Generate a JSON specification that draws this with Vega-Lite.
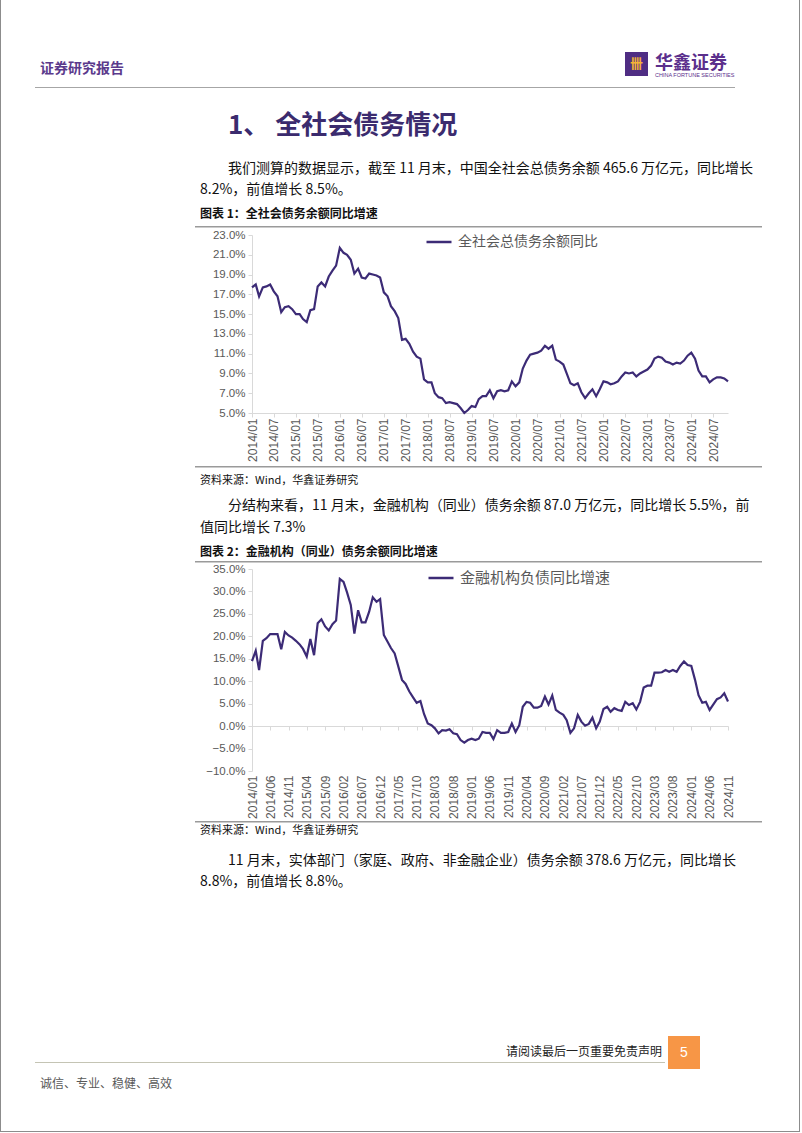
{
  "$schema": "https://vega.github.io/schema/vega-lite/v6.json",
  "padding": 0,
  "background": "#ffffff",
  "spacing": 0,
  "config": {
    "font": "Noto Sans CJK SC",
    "view": {"stroke": null},
    "axis": {"labelFont": "Liberation Sans", "labelColor": "#595959", "domainColor": "#d9d9d9", "tickColor": "#d9d9d9", "tickSize": 4, "grid": false, "title": null},
    "title": {"font": "Noto Sans CJK SC", "subtitleFont": "Noto Sans CJK SC", "color": "#1a1a1a", "anchor": "start", "frame": "group", "fontWeight": "normal", "subtitleFontWeight": "normal"}
  },
  "vconcat": [
    {
      "hconcat": [
        {"width": 1, "height": 1131, "view": {"fill": "#8c8c8c", "stroke": null}, "data": {"values": []}, "mark": "point"},
        {
          "resolve": {"scale": {"color": "independent"}},
          "spacing": 0,
          "vconcat": [
            {"width": 1, "height": 52, "data": {"values": []}, "mark": "point"},
            {
              "spacing": 0,
              "hconcat": [
                {"width": 590, "height": 24, "data": {"values": []}, "mark": "point",
                 "title": {"text": "证券研究报告", "orient": "bottom", "offset": -14, "dx": 5, "fontSize": 14, "fontWeight": "bold", "color": "#5b3a8c"}},
                {"width": 23, "height": 24, "view": {"fill": "#4f2d83", "stroke": null}, "data": {"values": []}, "mark": "point",
                 "title": {"text": "卌", "orient": "bottom", "anchor": "middle", "offset": -18, "fontSize": 13, "fontWeight": "bold", "color": "#f5b335"}},
                {"width": 87, "height": 24, "data": {"values": []}, "mark": "point",
                 "title": {"text": "华鑫证券", "subtitle": "CHINA FORTUNE SECURITIES", "orient": "bottom", "offset": -21.5, "dx": 7, "fontSize": 18, "fontWeight": "bold", "color": "#5b2f8c", "subtitleFont": "Liberation Sans", "subtitleFontSize": 5.5, "subtitleColor": "#5b2f8c", "subtitlePadding": 0}}
              ]
            },
            {"width": 1, "height": 9, "data": {"values": []}, "mark": "point"},
            {"width": 700, "height": 1, "view": {"fill": "#a6a6a6", "stroke": null}, "data": {"values": []}, "mark": "point"},
            {"width": 700, "height": 63, "data": {"values": []}, "mark": "point",
             "title": {"text": "1、 全社会债务情况", "orient": "bottom", "offset": -38, "dx": 193, "fontSize": 26, "fontWeight": "bold", "color": "#3b2b6e"}},
            {"width": 730, "height": 75, "data": {"values": []}, "mark": "point",
             "title": {"text": ["\u200b\u3000\u3000我们测算的数据显示，截至 11 月末，中国全社会总债务余额 465.6 万亿元，同比增长", "8.2%，前值增长 8.5%。"], "subtitle": "图表 1：全社会债务余额同比增速", "orient": "bottom", "offset": -64, "dx": 165, "fontSize": 14, "lineHeight": 21, "color": "#111111", "subtitleFontSize": 12, "subtitleFontWeight": "bold", "subtitleColor": "#111111", "subtitlePadding": 12}},
            {
              "spacing": 0,
              "hconcat": [
                {"width": 160, "height": 2, "data": {"values": []}, "mark": "point"},
                {"width": 567, "height": 1.5, "view": {"fill": "#9a9a9a", "stroke": null}, "data": {"values": []}, "mark": "point"}
              ]
            },
            {
              "width": 693, "height": 238,
              "data": {"values": [
                {"m":"2014-01","v":17.7},{"m":"2014-02","v":18.0},{"m":"2014-03","v":16.8},{"m":"2014-04","v":17.7},{"m":"2014-05","v":17.8},{"m":"2014-06","v":18.0},{"m":"2014-07","v":17.3},{"m":"2014-08","v":16.8},{"m":"2014-09","v":15.2},{"m":"2014-10","v":15.7},{"m":"2014-11","v":15.8},{"m":"2014-12","v":15.5},
                {"m":"2015-01","v":15.0},{"m":"2015-02","v":15.0},{"m":"2015-03","v":14.5},{"m":"2015-04","v":14.2},{"m":"2015-05","v":15.4},{"m":"2015-06","v":15.5},{"m":"2015-07","v":17.8},{"m":"2015-08","v":18.2},{"m":"2015-09","v":17.8},{"m":"2015-10","v":18.8},{"m":"2015-11","v":19.4},{"m":"2015-12","v":19.9},
                {"m":"2016-01","v":21.7},{"m":"2016-02","v":21.2},{"m":"2016-03","v":21.0},{"m":"2016-04","v":20.5},{"m":"2016-05","v":19.1},{"m":"2016-06","v":19.6},{"m":"2016-07","v":18.7},{"m":"2016-08","v":18.6},{"m":"2016-09","v":19.1},{"m":"2016-10","v":19.0},{"m":"2016-11","v":18.9},{"m":"2016-12","v":18.7},
                {"m":"2017-01","v":17.2},{"m":"2017-02","v":16.8},{"m":"2017-03","v":15.8},{"m":"2017-04","v":15.3},{"m":"2017-05","v":14.6},{"m":"2017-06","v":12.4},{"m":"2017-07","v":12.5},{"m":"2017-08","v":12.0},{"m":"2017-09","v":11.2},{"m":"2017-10","v":10.7},{"m":"2017-11","v":10.5},{"m":"2017-12","v":8.4},
                {"m":"2018-01","v":8.1},{"m":"2018-02","v":8.1},{"m":"2018-03","v":7.0},{"m":"2018-04","v":6.6},{"m":"2018-05","v":6.5},{"m":"2018-06","v":6.0},{"m":"2018-07","v":6.1},{"m":"2018-08","v":6.0},{"m":"2018-09","v":5.9},{"m":"2018-10","v":5.5},{"m":"2018-11","v":5.0},{"m":"2018-12","v":5.3},
                {"m":"2019-01","v":5.7},{"m":"2019-02","v":5.6},{"m":"2019-03","v":6.4},{"m":"2019-04","v":6.7},{"m":"2019-05","v":6.7},{"m":"2019-06","v":7.3},{"m":"2019-07","v":6.5},{"m":"2019-08","v":7.2},{"m":"2019-09","v":7.3},{"m":"2019-10","v":7.2},{"m":"2019-11","v":7.3},{"m":"2019-12","v":8.2},
                {"m":"2020-01","v":7.7},{"m":"2020-02","v":8.1},{"m":"2020-03","v":9.5},{"m":"2020-04","v":10.3},{"m":"2020-05","v":10.9},{"m":"2020-06","v":11.0},{"m":"2020-07","v":11.1},{"m":"2020-08","v":11.3},{"m":"2020-09","v":11.8},{"m":"2020-10","v":11.5},{"m":"2020-11","v":11.8},{"m":"2020-12","v":10.4},
                {"m":"2021-01","v":10.2},{"m":"2021-02","v":9.9},{"m":"2021-03","v":9.0},{"m":"2021-04","v":8.0},{"m":"2021-05","v":7.8},{"m":"2021-06","v":8.0},{"m":"2021-07","v":7.1},{"m":"2021-08","v":6.5},{"m":"2021-09","v":7.0},{"m":"2021-10","v":7.4},{"m":"2021-11","v":6.7},{"m":"2021-12","v":7.4},
                {"m":"2022-01","v":8.2},{"m":"2022-02","v":8.1},{"m":"2022-03","v":7.9},{"m":"2022-04","v":8.0},{"m":"2022-05","v":8.2},{"m":"2022-06","v":8.7},{"m":"2022-07","v":9.1},{"m":"2022-08","v":9.0},{"m":"2022-09","v":9.1},{"m":"2022-10","v":8.7},{"m":"2022-11","v":9.0},{"m":"2022-12","v":9.2},
                {"m":"2023-01","v":9.4},{"m":"2023-02","v":9.8},{"m":"2023-03","v":10.5},{"m":"2023-04","v":10.7},{"m":"2023-05","v":10.6},{"m":"2023-06","v":10.2},{"m":"2023-07","v":10.1},{"m":"2023-08","v":9.9},{"m":"2023-09","v":10.1},{"m":"2023-10","v":10.0},{"m":"2023-11","v":10.3},{"m":"2023-12","v":10.8},
                {"m":"2024-01","v":11.1},{"m":"2024-02","v":10.5},{"m":"2024-03","v":9.3},{"m":"2024-04","v":8.7},{"m":"2024-05","v":8.7},{"m":"2024-06","v":8.1},{"m":"2024-07","v":8.4},{"m":"2024-08","v":8.6},{"m":"2024-09","v":8.6},{"m":"2024-10","v":8.5},{"m":"2024-11","v":8.2}
              ]},
              "mark": {"type": "line", "strokeWidth": 2.2},
              "encoding": {
                "x": {"field": "m", "type": "temporal", "scale": {"type": "utc", "nice": false, "range": [217, 693]},
                      "axis": {"values": [
                        {"year":2014,"month":1,"date":1,"utc":true},{"year":2014,"month":7,"date":1,"utc":true},
                        {"year":2015,"month":1,"date":1,"utc":true},{"year":2015,"month":7,"date":1,"utc":true},
                        {"year":2016,"month":1,"date":1,"utc":true},{"year":2016,"month":7,"date":1,"utc":true},
                        {"year":2017,"month":1,"date":1,"utc":true},{"year":2017,"month":7,"date":1,"utc":true},
                        {"year":2018,"month":1,"date":1,"utc":true},{"year":2018,"month":7,"date":1,"utc":true},
                        {"year":2019,"month":1,"date":1,"utc":true},{"year":2019,"month":7,"date":1,"utc":true},
                        {"year":2020,"month":1,"date":1,"utc":true},{"year":2020,"month":7,"date":1,"utc":true},
                        {"year":2021,"month":1,"date":1,"utc":true},{"year":2021,"month":7,"date":1,"utc":true},
                        {"year":2022,"month":1,"date":1,"utc":true},{"year":2022,"month":7,"date":1,"utc":true},
                        {"year":2023,"month":1,"date":1,"utc":true},{"year":2023,"month":7,"date":1,"utc":true},
                        {"year":2024,"month":1,"date":1,"utc":true},{"year":2024,"month":7,"date":1,"utc":true}
                      ], "format": "%Y/%m", "labelAngle": -90, "labelFontSize": 12, "offset": -53, "labelPadding": 1, "labelOverlap": false, "labelFlush": false, "labelBound": false}},
                "y": {"field": "v", "type": "quantitative", "scale": {"domain": [5, 23], "nice": false, "zero": false, "range": [185, 7]},
                      "axis": {"values": [5, 7, 9, 11, 13, 15, 17, 19, 21, 23], "labelExpr": "format(datum.value, '.1f') + '%'", "labelFontSize": 11.5, "labelPadding": 3, "offset": -217}},
                "color": {"datum": "全社会总债务余额同比", "type": "nominal", "scale": {"range": ["#3c2b76"]},
                          "legend": {"orient": "none", "legendX": 390, "legendY": 0, "title": null, "symbolType": "stroke", "symbolSize": 625, "symbolStrokeWidth": 2.5, "labelFontSize": 14, "labelColor": "#595959", "labelFont": "Noto Sans CJK SC", "labelOffset": 5, "padding": 0}}
              }
            },
            {
              "spacing": 0,
              "hconcat": [
                {"width": 160, "height": 2, "data": {"values": []}, "mark": "point"},
                {"width": 567, "height": 1.5, "view": {"fill": "#9a9a9a", "stroke": null}, "data": {"values": []}, "mark": "point"}
              ]
            },
            {"width": 730, "height": 21, "data": {"values": []}, "mark": "point",
             "title": {"text": "资料来源：Wind，华鑫证券研究", "orient": "bottom", "offset": -14.5, "dx": 165, "fontSize": 11, "color": "#111111"}},
            {"width": 730, "height": 72, "data": {"values": []}, "mark": "point",
             "title": {"text": ["\u200b\u3000\u3000分结构来看，11 月末，金融机构（同业）债务余额 87.0 万亿元，同比增长 5.5%，前", "值同比增长 7.3%"], "subtitle": "图表 2：金融机构（同业）债务余额同比增速", "orient": "bottom", "offset": -62, "dx": 165, "fontSize": 14, "lineHeight": 22, "color": "#111111", "subtitleFontSize": 12, "subtitleFontWeight": "bold", "subtitleColor": "#111111", "subtitlePadding": 12}},
            {
              "spacing": 0,
              "hconcat": [
                {"width": 160, "height": 2, "data": {"values": []}, "mark": "point"},
                {"width": 567, "height": 1.5, "view": {"fill": "#9a9a9a", "stroke": null}, "data": {"values": []}, "mark": "point"}
              ]
            },
            {
              "width": 693, "height": 257,
              "data": {"values": [
                {"m":"2014-01","v":14.5},{"m":"2014-02","v":16.8},{"m":"2014-03","v":12.5},{"m":"2014-04","v":19.0},{"m":"2014-05","v":19.6},{"m":"2014-06","v":20.5},{"m":"2014-07","v":20.5},{"m":"2014-08","v":20.5},{"m":"2014-09","v":17.1},{"m":"2014-10","v":21.0},{"m":"2014-11","v":20.2},{"m":"2014-12","v":19.7},
                {"m":"2015-01","v":19.0},{"m":"2015-02","v":18.2},{"m":"2015-03","v":17.2},{"m":"2015-04","v":15.5},{"m":"2015-05","v":19.4},{"m":"2015-06","v":15.8},{"m":"2015-07","v":22.9},{"m":"2015-08","v":23.8},{"m":"2015-09","v":22.2},{"m":"2015-10","v":21.3},{"m":"2015-11","v":22.7},{"m":"2015-12","v":23.5},
                {"m":"2016-01","v":32.8},{"m":"2016-02","v":32.1},{"m":"2016-03","v":29.8},{"m":"2016-04","v":27.0},{"m":"2016-05","v":20.6},{"m":"2016-06","v":25.8},{"m":"2016-07","v":23.1},{"m":"2016-08","v":23.1},{"m":"2016-09","v":25.5},{"m":"2016-10","v":28.7},{"m":"2016-11","v":27.7},{"m":"2016-12","v":28.3},
                {"m":"2017-01","v":20.3},{"m":"2017-02","v":18.8},{"m":"2017-03","v":17.4},{"m":"2017-04","v":16.2},{"m":"2017-05","v":13.3},{"m":"2017-06","v":10.3},{"m":"2017-07","v":9.4},{"m":"2017-08","v":7.7},{"m":"2017-09","v":6.4},{"m":"2017-10","v":5.2},{"m":"2017-11","v":5.6},{"m":"2017-12","v":2.7},
                {"m":"2018-01","v":0.6},{"m":"2018-02","v":0.2},{"m":"2018-03","v":-0.5},{"m":"2018-04","v":-1.6},{"m":"2018-05","v":-0.9},{"m":"2018-06","v":-1.0},{"m":"2018-07","v":-0.7},{"m":"2018-08","v":-1.6},{"m":"2018-09","v":-1.8},{"m":"2018-10","v":-3.1},{"m":"2018-11","v":-3.7},{"m":"2018-12","v":-3.1},
                {"m":"2019-01","v":-2.8},{"m":"2019-02","v":-3.1},{"m":"2019-03","v":-2.8},{"m":"2019-04","v":-1.3},{"m":"2019-05","v":-1.5},{"m":"2019-06","v":-1.5},{"m":"2019-07","v":-2.9},{"m":"2019-08","v":-0.9},{"m":"2019-09","v":-1.5},{"m":"2019-10","v":-1.5},{"m":"2019-11","v":-1.3},{"m":"2019-12","v":0.6},
                {"m":"2020-01","v":-1.3},{"m":"2020-02","v":0.2},{"m":"2020-03","v":4.3},{"m":"2020-04","v":5.4},{"m":"2020-05","v":5.2},{"m":"2020-06","v":4.1},{"m":"2020-07","v":4.1},{"m":"2020-08","v":4.5},{"m":"2020-09","v":6.6},{"m":"2020-10","v":4.8},{"m":"2020-11","v":6.8},{"m":"2020-12","v":3.6},
                {"m":"2021-01","v":3.0},{"m":"2021-02","v":2.5},{"m":"2021-03","v":1.3},{"m":"2021-04","v":-1.5},{"m":"2021-05","v":-0.5},{"m":"2021-06","v":2.5},{"m":"2021-07","v":1.0},{"m":"2021-08","v":0.1},{"m":"2021-09","v":0.5},{"m":"2021-10","v":1.9},{"m":"2021-11","v":-0.5},{"m":"2021-12","v":1.0},
                {"m":"2022-01","v":3.8},{"m":"2022-02","v":4.3},{"m":"2022-03","v":3.2},{"m":"2022-04","v":4.0},{"m":"2022-05","v":3.6},{"m":"2022-06","v":3.4},{"m":"2022-07","v":5.4},{"m":"2022-08","v":4.7},{"m":"2022-09","v":5.1},{"m":"2022-10","v":3.7},{"m":"2022-11","v":5.4},{"m":"2022-12","v":8.6},
                {"m":"2023-01","v":9.0},{"m":"2023-02","v":9.0},{"m":"2023-03","v":11.9},{"m":"2023-04","v":11.9},{"m":"2023-05","v":12.0},{"m":"2023-06","v":12.5},{"m":"2023-07","v":12.1},{"m":"2023-08","v":12.5},{"m":"2023-09","v":12.1},{"m":"2023-10","v":13.4},{"m":"2023-11","v":14.4},{"m":"2023-12","v":13.6},
                {"m":"2024-01","v":13.4},{"m":"2024-02","v":10.3},{"m":"2024-03","v":6.9},{"m":"2024-04","v":5.2},{"m":"2024-05","v":5.4},{"m":"2024-06","v":3.6},{"m":"2024-07","v":4.8},{"m":"2024-08","v":6.0},{"m":"2024-09","v":6.4},{"m":"2024-10","v":7.3},{"m":"2024-11","v":5.5}
              ]},
              "mark": {"type": "line", "strokeWidth": 2.2},
              "encoding": {
                "x": {"field": "m", "type": "temporal", "scale": {"type": "utc", "nice": false, "range": [217, 693]},
                      "axis": {"values": [
                        {"year":2014,"month":1,"date":1,"utc":true},{"year":2014,"month":6,"date":1,"utc":true},{"year":2014,"month":11,"date":1,"utc":true},
                        {"year":2015,"month":4,"date":1,"utc":true},{"year":2015,"month":9,"date":1,"utc":true},
                        {"year":2016,"month":2,"date":1,"utc":true},{"year":2016,"month":7,"date":1,"utc":true},{"year":2016,"month":12,"date":1,"utc":true},
                        {"year":2017,"month":5,"date":1,"utc":true},{"year":2017,"month":10,"date":1,"utc":true},
                        {"year":2018,"month":3,"date":1,"utc":true},{"year":2018,"month":8,"date":1,"utc":true},
                        {"year":2019,"month":1,"date":1,"utc":true},{"year":2019,"month":6,"date":1,"utc":true},{"year":2019,"month":11,"date":1,"utc":true},
                        {"year":2020,"month":4,"date":1,"utc":true},{"year":2020,"month":9,"date":1,"utc":true},
                        {"year":2021,"month":2,"date":1,"utc":true},{"year":2021,"month":7,"date":1,"utc":true},{"year":2021,"month":12,"date":1,"utc":true},
                        {"year":2022,"month":5,"date":1,"utc":true},{"year":2022,"month":10,"date":1,"utc":true},
                        {"year":2023,"month":3,"date":1,"utc":true},{"year":2023,"month":8,"date":1,"utc":true},
                        {"year":2024,"month":1,"date":1,"utc":true},{"year":2024,"month":6,"date":1,"utc":true},{"year":2024,"month":11,"date":1,"utc":true}
                      ], "format": "%Y/%m", "labelAngle": -90, "labelFontSize": 12, "offset": -95, "labelPadding": 45, "labelOverlap": false, "labelFlush": false, "labelBound": false}},
                "y": {"field": "v", "type": "quantitative", "scale": {"domain": [-10, 35], "nice": false, "zero": false, "range": [207, 5]},
                      "axis": {"values": [-10, -5, 0, 5, 10, 15, 20, 25, 30, 35], "labelExpr": "format(datum.value, '.1f') + '%'", "labelFontSize": 11.5, "labelPadding": 3, "offset": -217}},
                "color": {"datum": "金融机构负债同比增速", "type": "nominal", "scale": {"range": ["#3c2b76"]},
                          "legend": {"orient": "none", "legendX": 392, "legendY": 0, "title": null, "symbolType": "stroke", "symbolSize": 625, "symbolStrokeWidth": 2.5, "labelFontSize": 15, "labelColor": "#595959", "labelFont": "Noto Sans CJK SC", "labelOffset": 5, "padding": 0}}
              }
            },
            {
              "spacing": 0,
              "hconcat": [
                {"width": 160, "height": 2, "data": {"values": []}, "mark": "point"},
                {"width": 567, "height": 1.5, "view": {"fill": "#9a9a9a", "stroke": null}, "data": {"values": []}, "mark": "point"}
              ]
            },
            {"width": 730, "height": 16, "data": {"values": []}, "mark": "point",
             "title": {"text": "资料来源：Wind，华鑫证券研究", "orient": "bottom", "offset": -14.5, "dx": 165, "fontSize": 11, "color": "#111111"}},
            {"width": 730, "height": 197, "data": {"values": []}, "mark": "point",
             "title": {"text": ["\u200b\u3000\u300011 月末，实体部门（家庭、政府、非金融企业）债务余额 378.6 万亿元，同比增长", "8.8%，前值增长 8.8%。"], "orient": "bottom", "offset": -182, "dx": 165, "fontSize": 14, "lineHeight": 21, "color": "#111111"}},
            {
              "spacing": 0,
              "hconcat": [
                {"width": 633, "height": 26, "data": {"values": []}, "mark": "point",
                 "title": {"text": "请阅读最后一页重要免责声明", "orient": "bottom", "anchor": "end", "offset": -15, "dx": -6, "fontSize": 12, "color": "#222222"}},
                {"width": 32, "height": 26, "view": {"fill": "#f79646", "stroke": null}, "data": {"values": []}, "mark": "point",
                 "title": {"text": "5", "orient": "bottom", "anchor": "middle", "offset": -16, "font": "Liberation Sans", "fontSize": 14, "color": "#ffffff"}}
              ]
            },
            {
              "spacing": 0,
              "hconcat": [
                {"width": 630, "height": 1, "view": {"fill": "#c4c4b4", "stroke": null}, "data": {"values": []}, "mark": "point"},
                {"width": 3, "height": 1, "data": {"values": []}, "mark": "point"},
                {"width": 32, "height": 7, "view": {"fill": "#f79646", "stroke": null}, "data": {"values": []}, "mark": "point"}
              ]
            },
            {"width": 730, "height": 20, "data": {"values": []}, "mark": "point",
             "title": {"text": "诚信、专业、稳健、高效", "orient": "bottom", "offset": -10, "dx": 5, "fontSize": 12, "color": "#595959"}}
          ]
        },
        {"width": 1, "height": 1131, "view": {"fill": "#8c8c8c", "stroke": null}, "data": {"values": []}, "mark": "point"}
      ],
      "spacing": 34
    },
    {"width": 800, "height": 1, "view": {"fill": "#8c8c8c", "stroke": null}, "data": {"values": []}, "mark": "point"}
  ]
}
